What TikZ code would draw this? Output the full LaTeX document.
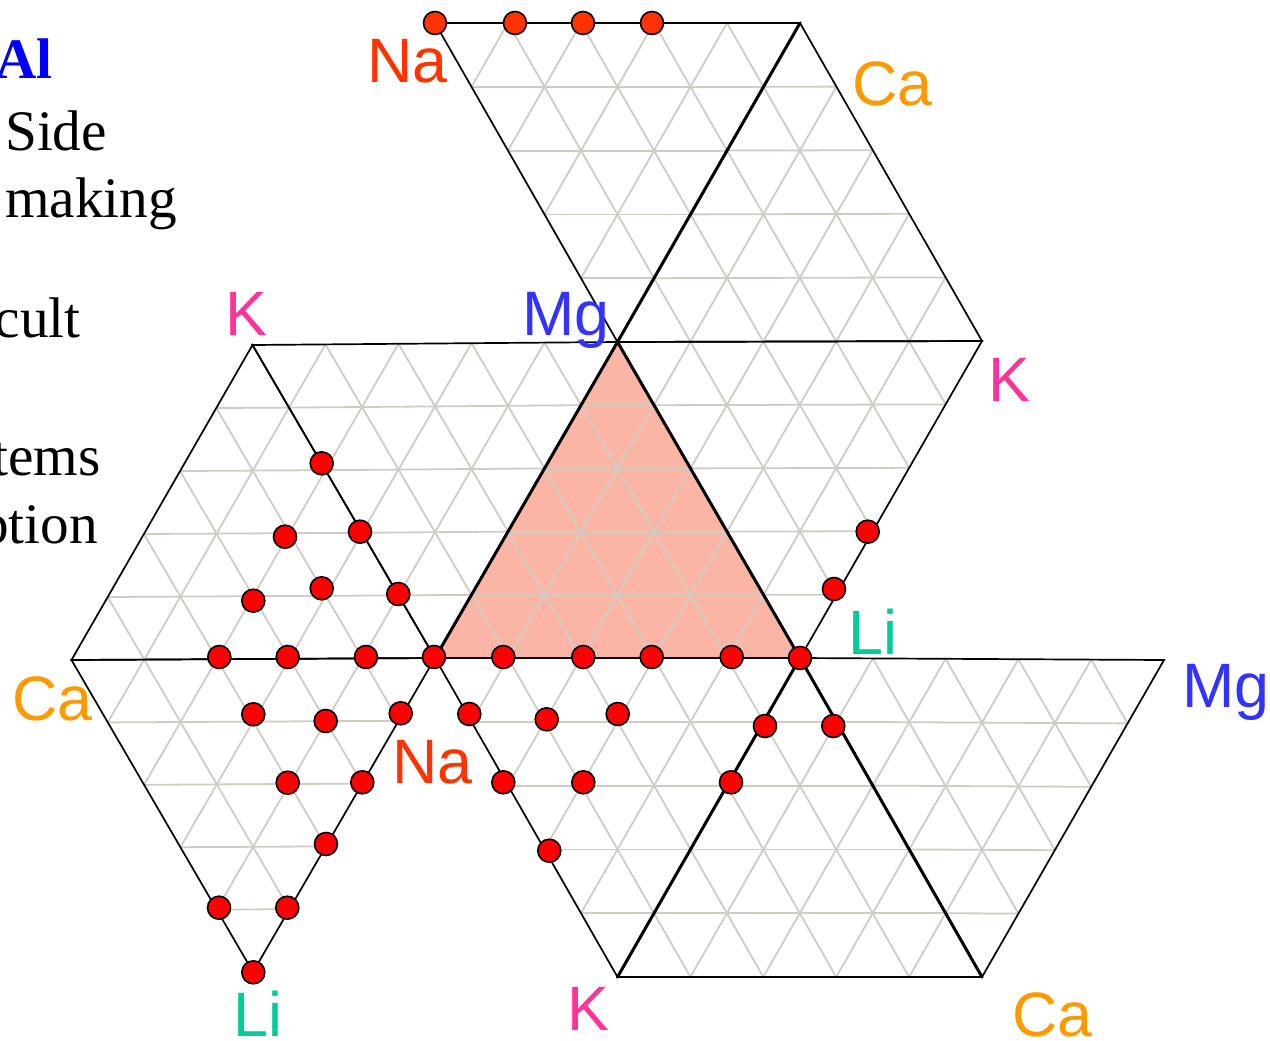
\documentclass[tikz,border=0pt]{standalone}
\usepackage{fontspec}
\setmainfont{Liberation Serif}
\setsansfont{Liberation Sans}
\usetikzlibrary{calc}
\definecolor{naC}{HTML}{FF3300}
\definecolor{caC}{HTML}{FF9900}
\definecolor{kC}{HTML}{FF3399}
\definecolor{mgC}{HTML}{3333FF}
\definecolor{liC}{HTML}{00CC99}
\definecolor{alC}{HTML}{0000FF}
\definecolor{gridC}{HTML}{D0CCC4}
\definecolor{fillC}{HTML}{FBB5A5}
\tikzset{
  gridline/.style={draw=gridC, line width=1.8bp},
  edge/.style={draw=black, line width=1.7bp, line join=miter},
  thickedge/.style={draw=black, line width=3bp, line cap=round},
  dot/.style={circle, draw=black, line width=1.6bp, fill=red, minimum size=23bp, inner sep=0pt},
  topdot/.style={dot, fill=naC},
  elem/.style={font=\sffamily\fontsize{63}{70}\selectfont, inner sep=0pt, anchor=base west},
  side/.style={font=\rmfamily\fontsize{57.5}{62}\selectfont, inner sep=0pt, text=black}
}
\begin{document}
\begin{tikzpicture}[x=1bp,y=-1bp]
\useasboundingbox (0,0) rectangle (1270,1041);
\clip (0,0) rectangle (1270,1041);
% vertices
\coordinate (NaT) at (435,23);
\coordinate (CaT) at (800,23);
\coordinate (MgC) at (617.5,342);
\coordinate (KR)  at (982,341);
\coordinate (KL)  at (252.5,345);
\coordinate (CaL) at (71.5,660);
\coordinate (NaC) at (435,658);
\coordinate (LiC) at (800,658);
\coordinate (MgR) at (1164,660);
\coordinate (LiB) at (253,972);
\coordinate (KB)  at (617.5,977);
\coordinate (CaB) at (982,977);
% central filled triangle
\fill[fillC] (NaC) -- (MgC) -- (LiC) -- cycle;
% grids
\foreach \a/\b/\c in {NaT/CaT/MgC, CaT/KR/MgC, MgC/KR/LiC, KL/MgC/NaC, KL/NaC/CaL, CaL/NaC/LiB, NaC/LiC/KB, LiC/CaB/KB, LiC/MgR/CaB, NaC/MgC/LiC}{
  \foreach \i [evaluate=\i as \f using \i/5] in {1,...,4}{
    \draw[gridline] ($(\a)!\f!(\b)$) -- ($(\a)!\f!(\c)$);
    \draw[gridline] ($(\b)!\f!(\a)$) -- ($(\b)!\f!(\c)$);
    \draw[gridline] ($(\c)!\f!(\a)$) -- ($(\c)!\f!(\b)$);
  }
}
% outlines
\foreach \a/\b/\c in {NaT/CaT/MgC, CaT/KR/MgC, MgC/KR/LiC, KL/MgC/NaC, KL/NaC/CaL, CaL/NaC/LiB, NaC/LiC/KB, LiC/CaB/KB, LiC/MgR/CaB, NaC/MgC/LiC}{
  \draw[edge] (\a) -- (\b) -- (\c) -- cycle;
}
\draw[thickedge] (CaT) -- (MgC);
\draw[thickedge] (MgC) -- (LiC);
\draw[thickedge] (NaC) -- (MgC);
\draw[thickedge] (LiC) -- (KB);
\draw[thickedge] (LiC) -- (CaB);
% dots
\node[topdot] (t1) at (435,23) {};
\node[topdot] (t2) at (515,23) {};
\node[topdot] (t3) at (583,23) {};
\node[topdot] (t4) at (652,23) {};
\foreach \x/\y [count=\n] in {321.7/463.3, 285/536.7, 360/531.7, 253.3/600.7, 321.7/588.3, 398.3/594,
  219.3/657, 287.7/657, 366/657, 434/657,
  503.3/657, 583.3/657, 651.7/657, 731.7/657, 800/658,
  253.3/714.3, 325.7/721, 400.7/713.3, 287.7/782.7, 362.3/782.3, 326/844, 219/907.7, 287.3/907.7, 253.3/972.3,
  469.3/714, 546.7/719.3, 617.7/714, 503.3/782.3, 583.3/782.3, 549.3/850.7,
  765/726, 731/782.3, 833.3/726,
  867.7/531.7, 834/589}{
  \node[dot] (d\n) at (\x,\y) {};
}
% element labels
\node[elem, text=naC] (lNaT) at (367,82) {Na};
\node[elem, text=caC] (lCaT) at (852,105) {Ca};
\node[elem, text=kC]  (lKL)  at (225,335) {K};
\node[elem, text=mgC] (lMgC) at (522,335) {Mg};
\node[elem, text=kC]  (lKR)  at (988,401) {K};
\node[elem, text=liC] (lLiC) at (848,654) {Li};
\node[elem, text=mgC] (lMgR) at (1182,707) {Mg};
\node[elem, text=caC] (lCaL) at (12,720) {Ca};
\node[elem, text=naC] (lNaC) at (392,783) {Na};
\node[elem, text=liC] (lLiB) at (233,1036) {Li};
\node[elem, text=kC]  (lKB)  at (567,1030) {K};
\node[elem, text=caC] (lCaB) at (1012,1036) {Ca};
% side text fragments
\node[side, anchor=base east, text=alC, font=\rmfamily\bfseries\fontsize{57.5}{62}\selectfont] (s1) at (53,78) {Al};
\node[side, anchor=base west] (s2) at (5,150) {Side};
\node[side, anchor=base west] (s3) at (5,217) {making};
\node[side, anchor=base east] (s4) at (81,337) {cult};
\node[side, anchor=base east] (s5) at (101,475) {tems};
\node[side, anchor=base east] (s6) at (98,543) {ption};
\end{tikzpicture}
\end{document}
